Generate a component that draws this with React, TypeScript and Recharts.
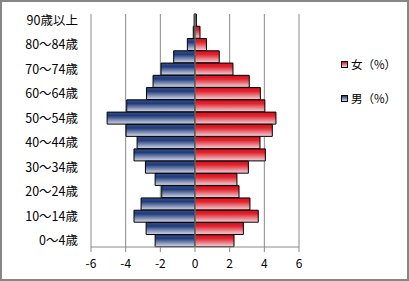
import React from "react";
import { BarChart, Bar, XAxis, YAxis, CartesianGrid, ReferenceLine } from "recharts";

const ageGroups = [
  "90歳以上", "85～89歳", "80～84歳", "75～79歳", "70～74歳", "65～69歳", "60～64歳",
  "55～59歳", "50～54歳", "45～49歳", "40～44歳", "35～39歳", "30～34歳", "25～29歳",
  "20～24歳", "15～19歳", "10～14歳", "5～9歳", "0～4歳",
];
const malePct = [0.05, 0.1, 0.44, 1.23, 1.96, 2.42, 2.8, 3.94, 5.07, 3.98, 3.34, 3.52, 2.86, 2.3, 1.92, 3.11, 3.52, 2.82, 2.3];
const femalePct = [0.08, 0.29, 0.66, 1.4, 2.19, 3.13, 3.77, 4.03, 4.67, 4.46, 3.75, 4.06, 3.08, 2.42, 2.54, 3.17, 3.65, 2.79, 2.25];
const xTicks = [-6, -4, -2, 0, 2, 4, 6];

const data = ageGroups.map((age, i) => ({ age, male: -malePct[i], female: femalePct[i] }));

const FONT = "'Noto Sans CJK JP', 'Noto Sans', sans-serif";

export default function App() {
  return (
    <div style={{ position: "absolute", left: 0, top: 0, width: 409, height: 281, background: "#fff", fontFamily: FONT }}>
      <BarChart
        width={409}
        height={281}
        data={data}
        layout="vertical"
        stackOffset="sign"
        barCategoryGap={0}
        barGap={0}
        margin={{ top: 14, right: 110, bottom: 0, left: 0 }}
      >
        <defs>
          <linearGradient id="gBlue" x1="0" y1="0" x2="0" y2="1">
            <stop offset="0%" stopColor="#36528c" />
            <stop offset="30%" stopColor="#1f3a78" />
            <stop offset="100%" stopColor="#d6dbeb" />
          </linearGradient>
          <linearGradient id="gRed" x1="0" y1="0" x2="0" y2="1">
            <stop offset="0%" stopColor="#d8101c" />
            <stop offset="30%" stopColor="#e0222c" />
            <stop offset="100%" stopColor="#f3d5dc" />
          </linearGradient>
        </defs>
        <CartesianGrid horizontal={false} vertical={true} stroke="#8a8a8a" />
        <XAxis
          type="number"
          domain={[-6, 6]}
          ticks={xTicks}
          height={34}
          tickSize={5}
          tickMargin={7}
          stroke="#8a8a8a"
          tick={{ fill: "#000", fontSize: 12, fontFamily: FONT }}
          interval={0}
        />
        <YAxis
          type="category"
          dataKey="age"
          width={91}
          interval={1}
          tickSize={0}
          tickMargin={13}
          axisLine={false}
          tickLine={false}
          tick={{ fill: "#000", fontSize: 12.5, fontFamily: FONT }}
        />
        <Bar dataKey="male" stackId="a" fill="url(#gBlue)" stroke="#000" strokeWidth={1} isAnimationActive={false} />
        <Bar dataKey="female" stackId="a" fill="url(#gRed)" stroke="#000" strokeWidth={1} isAnimationActive={false} />
        <ReferenceLine x={0} stroke="#8a9a9a" strokeWidth={1} />
      </BarChart>
      <div style={{ position: "absolute", left: 341, top: 58, fontSize: 11.5, lineHeight: "12px", color: "#000", whiteSpace: "nowrap" }}>
        <div style={{ display: "flex", alignItems: "center" }}>
          <span style={{ display: "inline-block", width: 5, height: 5, border: "1px solid #000", background: "linear-gradient(#d8101c, #f3d5dc)", marginRight: 3 }} />
          <span>女（%）</span>
        </div>
        <div style={{ display: "flex", alignItems: "center", marginTop: 22 }}>
          <span style={{ display: "inline-block", width: 5, height: 5, border: "1px solid #000", background: "linear-gradient(#1f3a78, #d6dbeb)", marginRight: 3 }} />
          <span>男（%）</span>
        </div>
      </div>
      <div style={{ position: "absolute", left: 0, top: 0, width: 409, height: 281, boxSizing: "border-box", border: "2px solid #868686", pointerEvents: "none" }} />
    </div>
  );
}
